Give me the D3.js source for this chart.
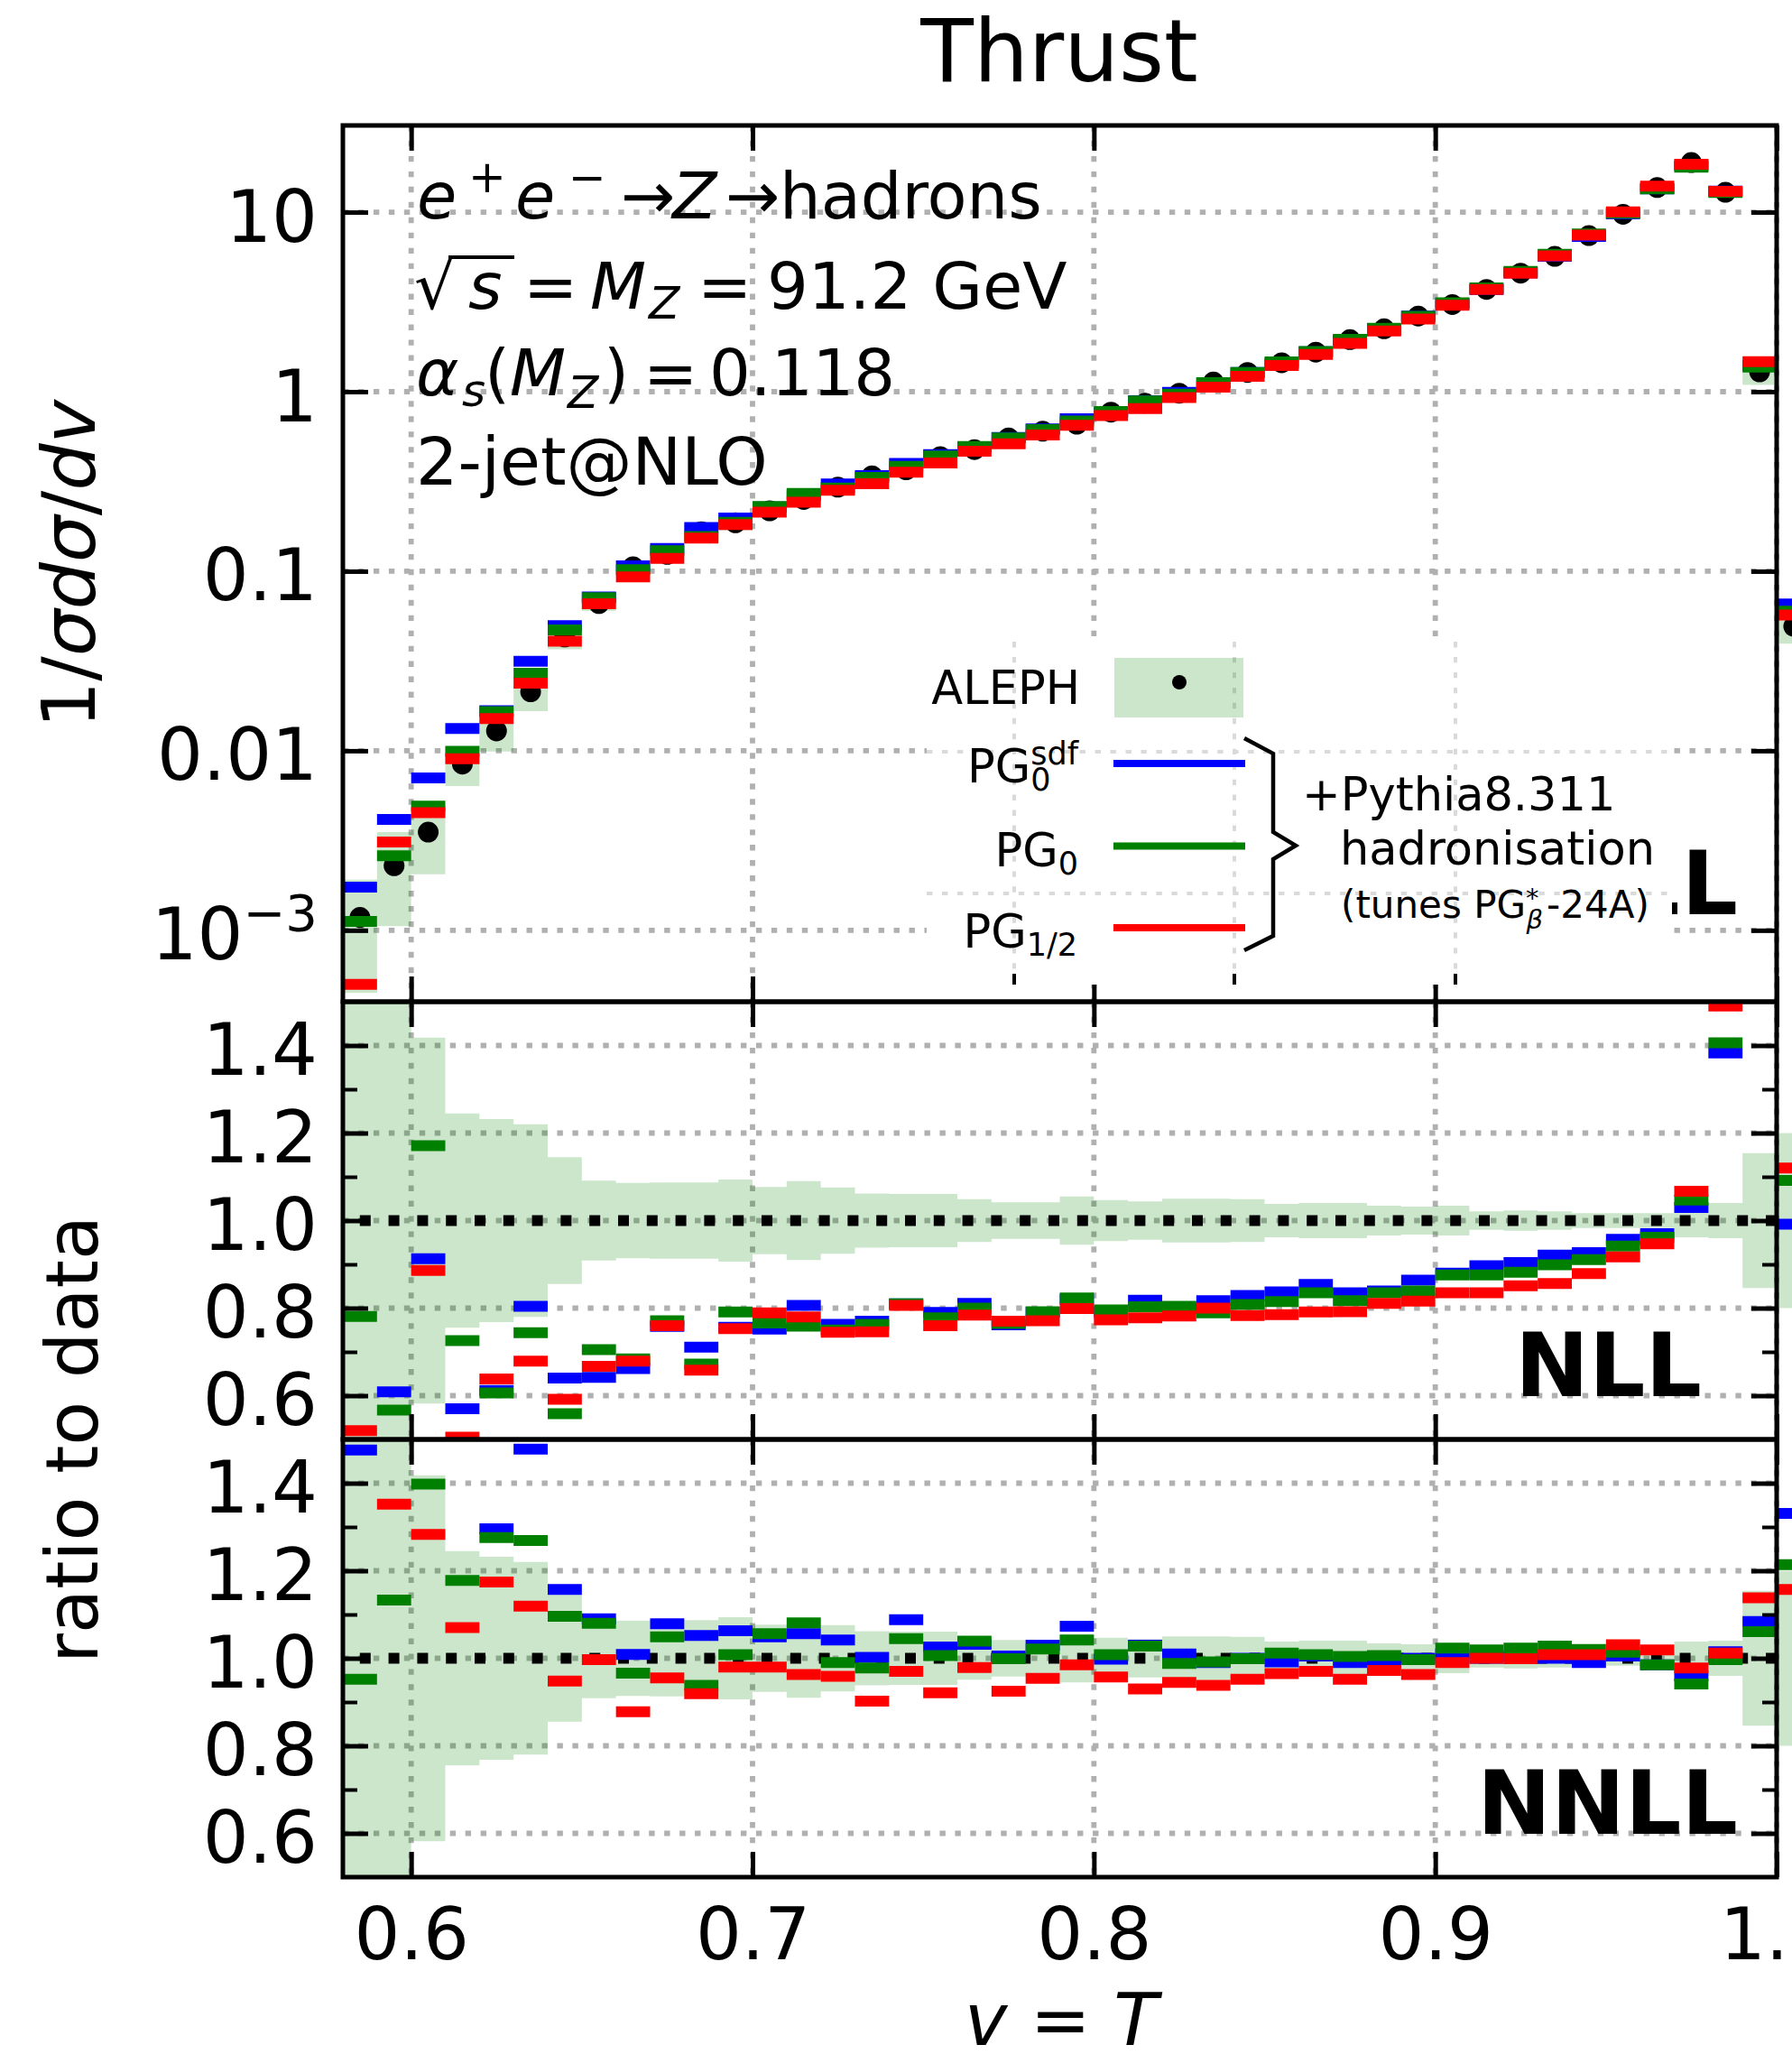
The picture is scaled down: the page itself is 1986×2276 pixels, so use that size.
<!DOCTYPE html>
<html><head><meta charset="utf-8">
<script src="https://cdn.jsdelivr.net/npm/d3@7"></script>
<style>body{margin:0;background:#fff}svg{display:block}text{font-family:"DejaVu Sans",sans-serif}</style>
</head><body><svg id="c" width="1986" height="2276"></svg>
<script>
// ---------------- data ----------------
const edges=[0.58,0.59,0.60,0.61,0.62,0.63,0.64,0.65,0.66,0.67,0.68,0.69,0.70,0.71,0.72,0.73,0.74,0.75,0.76,0.77,0.78,0.79,0.80,0.81,0.82,0.83,0.84,0.85,0.86,0.87,0.88,0.89,0.90,0.91,0.92,0.93,0.94,0.95,0.96,0.97,0.98,0.99,1.00,1.01];
const aleph=[1.18e-3,2.29e-3,3.52e-3,8.43e-3,1.29e-2,2.13e-2,0.043,0.066,0.106,0.124,0.166,0.186,0.217,0.251,0.294,0.34,0.367,0.435,0.476,0.553,0.602,0.659,0.769,0.864,0.981,1.131,1.28,1.45,1.66,1.95,2.24,2.64,3.06,3.71,4.57,5.67,7.4,9.73,13.7,18.9,12.9,1.29,0.0493];
const alephRelErr=[0.62,0.54,0.418,0.245,0.232,0.22,0.145,0.091,0.086,0.087,0.087,0.094,0.077,0.09,0.076,0.062,0.061,0.061,0.049,0.042,0.042,0.055,0.047,0.044,0.05,0.05,0.049,0.038,0.04,0.04,0.034,0.032,0.034,0.021,0.023,0.021,0.017,0.017,0.017,0.038,0.04,0.154,0.2];
// top panel (NNLL + hadronisation)
const topPG0sdf=[1.74e-3,4.14e-3,7.05e-3,1.33e-2,1.67e-2,3.15e-2,0.0497,0.0719,0.107,0.134,0.175,0.198,0.228,0.265,0.306,0.341,0.399,0.446,0.491,0.556,0.620,0.707,0.767,0.890,0.991,1.12,1.28,1.438,1.668,1.93,2.218,2.64,3.091,3.71,4.593,5.67,7.326,9.779,13.49,18.14,13.09,1.398,0.0656];
const topPG0=[1.12e-3,2.60e-3,4.92e-3,9.93e-3,1.65e-2,2.70e-2,0.0471,0.0713,0.102,0.130,0.156,0.187,0.229,0.271,0.291,0.333,0.384,0.438,0.495,0.552,0.615,0.687,0.775,0.888,0.969,1.122,1.279,1.467,1.673,1.958,2.253,2.632,3.13,3.78,4.675,5.829,7.548,9.866,13.49,17.78,12.86,1.369,0.0598];
const topPG12=[5.0e-4,3.10e-3,4.52e-3,9.02e-3,1.51e-2,2.38e-2,0.0408,0.0658,0.0931,0.118,0.153,0.182,0.213,0.242,0.282,0.307,0.356,0.401,0.466,0.512,0.574,0.649,0.736,0.804,0.927,1.061,1.219,1.399,1.610,1.856,2.177,2.542,3.029,3.71,4.565,5.715,7.459,10.03,13.96,18.48,13.05,1.468,0.0570];
// NLL ratios to data
const nllPG0sdf=[0.45,0.609,0.913,0.570,0.612,0.804,0.640,0.642,0.662,0.758,0.711,0.756,0.752,0.806,0.763,0.77,0.81,0.79,0.811,0.762,0.79,0.82,0.79,0.818,0.80,0.817,0.829,0.837,0.854,0.835,0.839,0.864,0.88,0.897,0.904,0.921,0.927,0.957,0.97,1.03,1.383,1.6,0.992];
const nllPG0=[0.781,0.567,1.171,0.726,0.606,0.744,0.559,0.705,0.684,0.771,0.672,0.791,0.766,0.759,0.75,0.763,0.81,0.778,0.8,0.765,0.792,0.823,0.796,0.803,0.804,0.789,0.808,0.815,0.835,0.817,0.835,0.839,0.876,0.876,0.882,0.899,0.911,0.942,0.962,1.047,1.406,1.6,1.092];
const nllPG12=[0.52,0.45,0.886,0.505,0.638,0.679,0.592,0.667,0.679,0.76,0.658,0.753,0.789,0.78,0.745,0.746,0.806,0.76,0.784,0.77,0.771,0.799,0.773,0.778,0.782,0.8,0.783,0.785,0.791,0.792,0.811,0.816,0.835,0.835,0.851,0.856,0.879,0.917,0.947,1.067,1.49,1.6,1.12];
// NNLL ratios to data
const nnllPG0sdf=[1.476,1.80,2.0,1.58,1.296,1.478,1.157,1.09,1.009,1.079,1.052,1.063,1.049,1.056,1.042,1.002,1.088,1.026,1.032,1.005,1.03,1.073,0.998,1.03,1.01,0.99,1.0,0.992,1.005,0.99,0.99,1.0,1.01,1.0,1.005,1.0,0.99,1.005,0.985,0.96,1.015,1.084,1.331];
const nnllPG0=[0.952,1.133,1.398,1.178,1.276,1.269,1.096,1.08,0.966,1.049,0.938,1.008,1.056,1.081,0.99,0.978,1.045,1.006,1.039,0.999,1.021,1.042,1.008,1.028,0.988,0.992,0.999,1.012,1.008,1.004,1.006,0.997,1.023,1.019,1.023,1.028,1.02,1.014,0.985,0.941,0.997,1.061,1.214];
const nnllPG12=[0.42,1.352,1.283,1.07,1.174,1.119,0.948,0.997,0.878,0.955,0.919,0.98,0.98,0.963,0.959,0.902,0.97,0.921,0.979,0.925,0.954,0.985,0.957,0.93,0.945,0.938,0.952,0.965,0.97,0.952,0.972,0.963,0.99,1.0,0.999,1.008,1.008,1.031,1.019,0.978,1.012,1.138,1.157];
const xTicks=[0.6,0.7,0.8,0.9,1.0];
const topYTicks=[1e-3,1e-2,0.1,1,10];
const ratioYTicks=[0.6,0.8,1.0,1.2,1.4];
const ratioMinor=[0.7,0.9,1.1,1.3];
const colBlue='#0000ff',colGreen='#008000',colRed='#ff0000',bandCol='rgba(0,128,0,0.2)';

// ---------------- layout ----------------
const W=1986,X0=380,X1=1969;
const svg=d3.select('#c');
const x=d3.scaleLinear().domain([0.58,1.0]).range([X0,X1]);
const P={top:[139,1110],mid:[1110,1595],bot:[1595,2080]};
const yTop=d3.scaleLog().domain([4.0e-4,30.4]).range([P.top[1],P.top[0]]);
const yMid=d3.scaleLinear().domain([0.5,1.5]).range([P.mid[1],P.mid[0]]);
const yBot=d3.scaleLinear().domain([0.5,1.5]).range([P.bot[1],P.bot[0]]);
const defs=svg.append('defs');
Object.entries(P).forEach(([k,[t,b]])=>{
  defs.append('clipPath').attr('id','clip-'+k).append('rect').attr('x',X0).attr('y',t).attr('width',W-X0).attr('height',b-t);
});
const gridStyle=s=>s.attr('stroke','#b0b0b0').attr('stroke-width',5.8).attr('stroke-dasharray','6.4 10.56').attr('fill','none');

function drawGrid(yS,yVals,[t,b]){
  const g=svg.append('g');
  g.selectAll(null).data(yVals).join('line').attr('x1',X0).attr('x2',X1).attr('y1',d=>yS(d)).attr('y2',d=>yS(d)).call(gridStyle);
  g.selectAll(null).data(xTicks).join('line').attr('x1',d=>x(d)).attr('x2',d=>x(d)).attr('y1',t).attr('y2',b).call(gridStyle);
}
function drawBand(yS,center,key){
  const pts=[];
  center.forEach((c,i)=>{const lo=c*(1-alephRelErr[i]),hi=c*(1+alephRelErr[i]);pts.push({x:edges[i],lo,hi},{x:edges[i+1],lo,hi});});
  svg.append('path').attr('clip-path',`url(#clip-${key})`).attr('fill',bandCol)
    .attr('d',d3.area().x(d=>x(d.x)).y0(d=>yS(d.lo)).y1(d=>yS(d.hi))(pts));
}
function drawBars(yS,vals,color,key){
  svg.append('g').attr('clip-path',`url(#clip-${key})`).selectAll('line')
    .data(vals.map((v,i)=>({v,lo:edges[i],hi:edges[i+1]}))).join('line')
    .attr('x1',d=>x(d.lo)).attr('x2',d=>x(d.hi)).attr('y1',d=>yS(d.v)).attr('y2',d=>yS(d.v))
    .attr('stroke',color).attr('stroke-width',12);
}
function styleTicks(g,w){g.select('.domain').remove();g.selectAll('.tick line').attr('stroke','#000').attr('stroke-width',w);}
function drawYAxes(yS,vals,len,w,fmt){
  const gl=svg.append('g').attr('transform',`translate(${X0},0)`)
    .call(d3.axisLeft(yS).tickValues(vals).tickSize(-len).tickPadding(28).tickFormat(fmt||(()=>'')));
  styleTicks(gl,w);
  gl.selectAll('.tick text').attr('font-size',80).attr('font-family','DejaVu Sans').attr('fill','#000').attr('dy','0.4em');
  const gr=svg.append('g').attr('transform',`translate(${X1},0)`)
    .call(d3.axisRight(yS).tickValues(vals).tickSize(-len).tickFormat(()=>''));
  styleTicks(gr,w);
  return gl;
}
function drawXAxes([t,b],labels){
  const gb=svg.append('g').attr('transform',`translate(0,${b})`)
    .call(d3.axisBottom(x).tickValues(xTicks).tickSize(-28).tickPadding(34).tickFormat(labels?d3.format('.1f'):()=>''));
  styleTicks(gb,5);
  gb.selectAll('.tick text').attr('font-size',80).attr('font-family','DejaVu Sans').attr('fill','#000');
  const gt=svg.append('g').attr('transform',`translate(0,${t})`)
    .call(d3.axisTop(x).tickValues(xTicks).tickSize(-28).tickFormat(()=>''));
  styleTicks(gt,5);
}
function spine([t,b]){svg.append('rect').attr('x',X0).attr('y',t).attr('width',X1-X0).attr('height',b-t).attr('fill','none').attr('stroke','#000').attr('stroke-width',5);}

// ---------------- title & labels ----------------
svg.append('text').attr('x',1174).attr('y',90).attr('text-anchor','middle').attr('font-size',96).text('Thrust');
const yl=svg.append('text').attr('transform','translate(105,625) rotate(-90)').attr('text-anchor','middle').attr('font-size',82);
yl.append('tspan').text('1/');
yl.append('tspan').attr('font-style','oblique').text('σdσ');
yl.append('tspan').text('/');
yl.append('tspan').attr('font-style','oblique').text('dv');
svg.append('text').attr('transform','translate(108,1595) rotate(-90)').attr('text-anchor','middle').attr('font-size',80).text('ratio to data');
const xl=svg.append('text').attr('x',1176).attr('y',2266).attr('text-anchor','middle').attr('font-size',80);
xl.append('tspan').attr('font-style','oblique').text('v');
xl.append('tspan').text(' = ');
xl.append('tspan').attr('font-style','oblique').text('T');

// ---------------- top panel ----------------
drawGrid(yTop,topYTicks,P.top);
drawBand(yTop,aleph,'top');
svg.append('g').attr('clip-path','url(#clip-top)').selectAll('circle').data(aleph.map((v,i)=>({v,c:(edges[i]+edges[i+1])/2}))).join('circle')
  .attr('cx',d=>x(d.c)).attr('cy',d=>yTop(d.v)).attr('r',11.5).attr('fill','#000');
drawBars(yTop,topPG0sdf,colBlue,'top');
drawBars(yTop,topPG0,colGreen,'top');
drawBars(yTop,topPG12,colRed,'top');
const fmtTop=d=>d>=1?String(d):(d===1e-3?'10':String(d));
const glTop=drawYAxes(yTop,topYTicks,28,5,fmtTop);
glTop.selectAll('.tick text').filter(d=>d===1e-3).append('tspan').attr('font-size',56).attr('dy',-32).text('−3');
drawXAxes(P.top,false);
spine(P.top);

// annotation text
const dxA=7;
function piece(t,px,py,size,it){svg.append('text').attr('x',px+dxA).attr('y',py).attr('font-size',size).attr('font-style',it?'oblique':'normal').text(t);}
piece('e',455,242,72,true);piece('+',512,213,50,false);piece('e',564,242,72,true);piece('−',623,214,50,false);
piece('→',681,242,72,false);piece('Z',738,242,72,true);piece('→',797,242,72,false);piece('hadrons',857,242,72,false);
piece('√',452,342,72,false);
svg.append('line').attr('x1',490+dxA).attr('x2',563+dxA).attr('y1',285).attr('y2',285).attr('stroke','#000').attr('stroke-width',4);
piece('s',512,342,72,true);piece('=',573,342,72,false);piece('M',647,342,72,true);piece('Z',712,353,50,true);
piece('=',766,342,72,false);piece('91.2 GeV',843,342,72,false);
piece('α',454,438,72,true);piece('s',505,450,50,true);piece('(',530,438,72,false);piece('M',558,438,72,true);
piece('Z',622,452,50,true);piece(')',662,438,72,false);piece('=',706,438,72,false);piece('0.118',779,438,72,false);
piece('2-jet@NLO',454,537,73,false);

// inset legend axes (covers most of the top panel's order label)
svg.append('rect').attr('x',1027).attr('y',711).attr('width',1852-1027).attr('height',1091-711).attr('fill','#fff');
const insetStyle=s=>s.attr('stroke','#dadada').attr('stroke-width',4).attr('stroke-dasharray','6.4 10.56');
[1124,1368,1613].forEach(px=>{
  svg.append('line').attr('x1',px).attr('x2',px).attr('y1',711).attr('y2',1091).call(insetStyle);
  svg.append('line').attr('x1',px).attr('x2',px).attr('y1',1079).attr('y2',1091).attr('stroke','#000').attr('stroke-width',4);
});
[833,990].forEach(py=>svg.append('line').attr('x1',1027).attr('x2',1852).attr('y1',py).attr('y2',py).call(insetStyle));
// visible remainder of the top panel's order label
svg.append('rect').attr('x',1853).attr('y',1000).attr('width',6).attr('height',13).attr('fill','#000');
svg.append('text').attr('x',1926).attr('y',1013).attr('text-anchor','end').attr('font-size',98).attr('font-weight','bold').text('L');
// legend entries
svg.append('rect').attr('x',1235).attr('y',729).attr('width',143).attr('height',66).attr('fill',bandCol);
svg.append('circle').attr('cx',1307).attr('cy',756).attr('r',8).attr('fill','#000');
svg.append('text').attr('x',1197).attr('y',780).attr('text-anchor','end').attr('font-size',51).text('ALEPH');
[[846,colBlue],[937.5,colGreen],[1028,colRed]].forEach(([py,c])=>svg.append('line').attr('x1',1234).attr('x2',1380).attr('y1',py).attr('y2',py).attr('stroke',c).attr('stroke-width',8));
const l1=svg.append('text').attr('x',1195).attr('y',867).attr('text-anchor','end').attr('font-size',51);
l1.append('tspan').text('PG');l1.append('tspan').attr('font-size',35).attr('dy',9).text('0');
l1.append('tspan').attr('font-size',35).attr('dx',-22.3).attr('dy',-29).text('sdf');
const l2=svg.append('text').attr('x',1195).attr('y',960).attr('text-anchor','end').attr('font-size',51);
l2.append('tspan').text('PG');l2.append('tspan').attr('font-size',35).attr('dy',9).text('0');
const l3=svg.append('text').attr('x',1194).attr('y',1050).attr('text-anchor','end').attr('font-size',51);
l3.append('tspan').text('PG');l3.append('tspan').attr('font-size',35).attr('dy',9).text('1/2');
svg.append('path').attr('d','M1379,818 L1411,835 L1411,922 L1436,937 L1411,952 L1411,1037 L1379,1053').attr('fill','none').attr('stroke','#000').attr('stroke-width',4.5);
svg.append('text').attr('x',1443).attr('y',898).attr('font-size',51).text('+Pythia8.311');
svg.append('text').attr('x',1485).attr('y',958).attr('font-size',51).text('hadronisation');
const tn=svg.append('text').attr('x',1486).attr('y',1017).attr('font-size',42);
tn.append('tspan').text('(tunes PG');
tn.append('tspan').attr('font-size',29).attr('dy',-12).text('*');
tn.append('tspan').attr('font-size',29).attr('font-style','oblique').attr('dx',-14).attr('dy',24).text('β');
tn.append('tspan').attr('dx',4).attr('dy',-12).text('-24A)');

// ---------------- ratio panels ----------------
function ratioPanel(key,yS,b,g,r,label,labelX,labelY){
  const pr=P[key];
  drawGrid(yS,ratioYTicks,pr);
  drawBand(yS,aleph.map(()=>1),key);
  svg.append('line').attr('x1',X0).attr('x2',X1).attr('y1',yS(1)).attr('y2',yS(1))
    .attr('stroke','#000').attr('stroke-width',12).attr('stroke-dasharray','12 19.8').attr('stroke-dashoffset',13);
  drawBars(yS,b,colBlue,key);drawBars(yS,g,colGreen,key);drawBars(yS,r,colRed,key);
  drawYAxes(yS,ratioYTicks,28,5,d3.format('.1f'));
  drawYAxes(yS,ratioMinor,16,4,null);
  drawXAxes(pr,key==='bot');
  spine(pr);
  svg.append('text').attr('x',labelX).attr('y',labelY).attr('text-anchor','end').attr('font-size',98).attr('font-weight','bold').text(label);
}
ratioPanel('mid',yMid,nllPG0sdf,nllPG0,nllPG12,'NLL',1886,1547);
ratioPanel('bot',yBot,nnllPG0sdf,nnllPG0,nnllPG12,'NNLL',1926,2032);
</script></body></html>
